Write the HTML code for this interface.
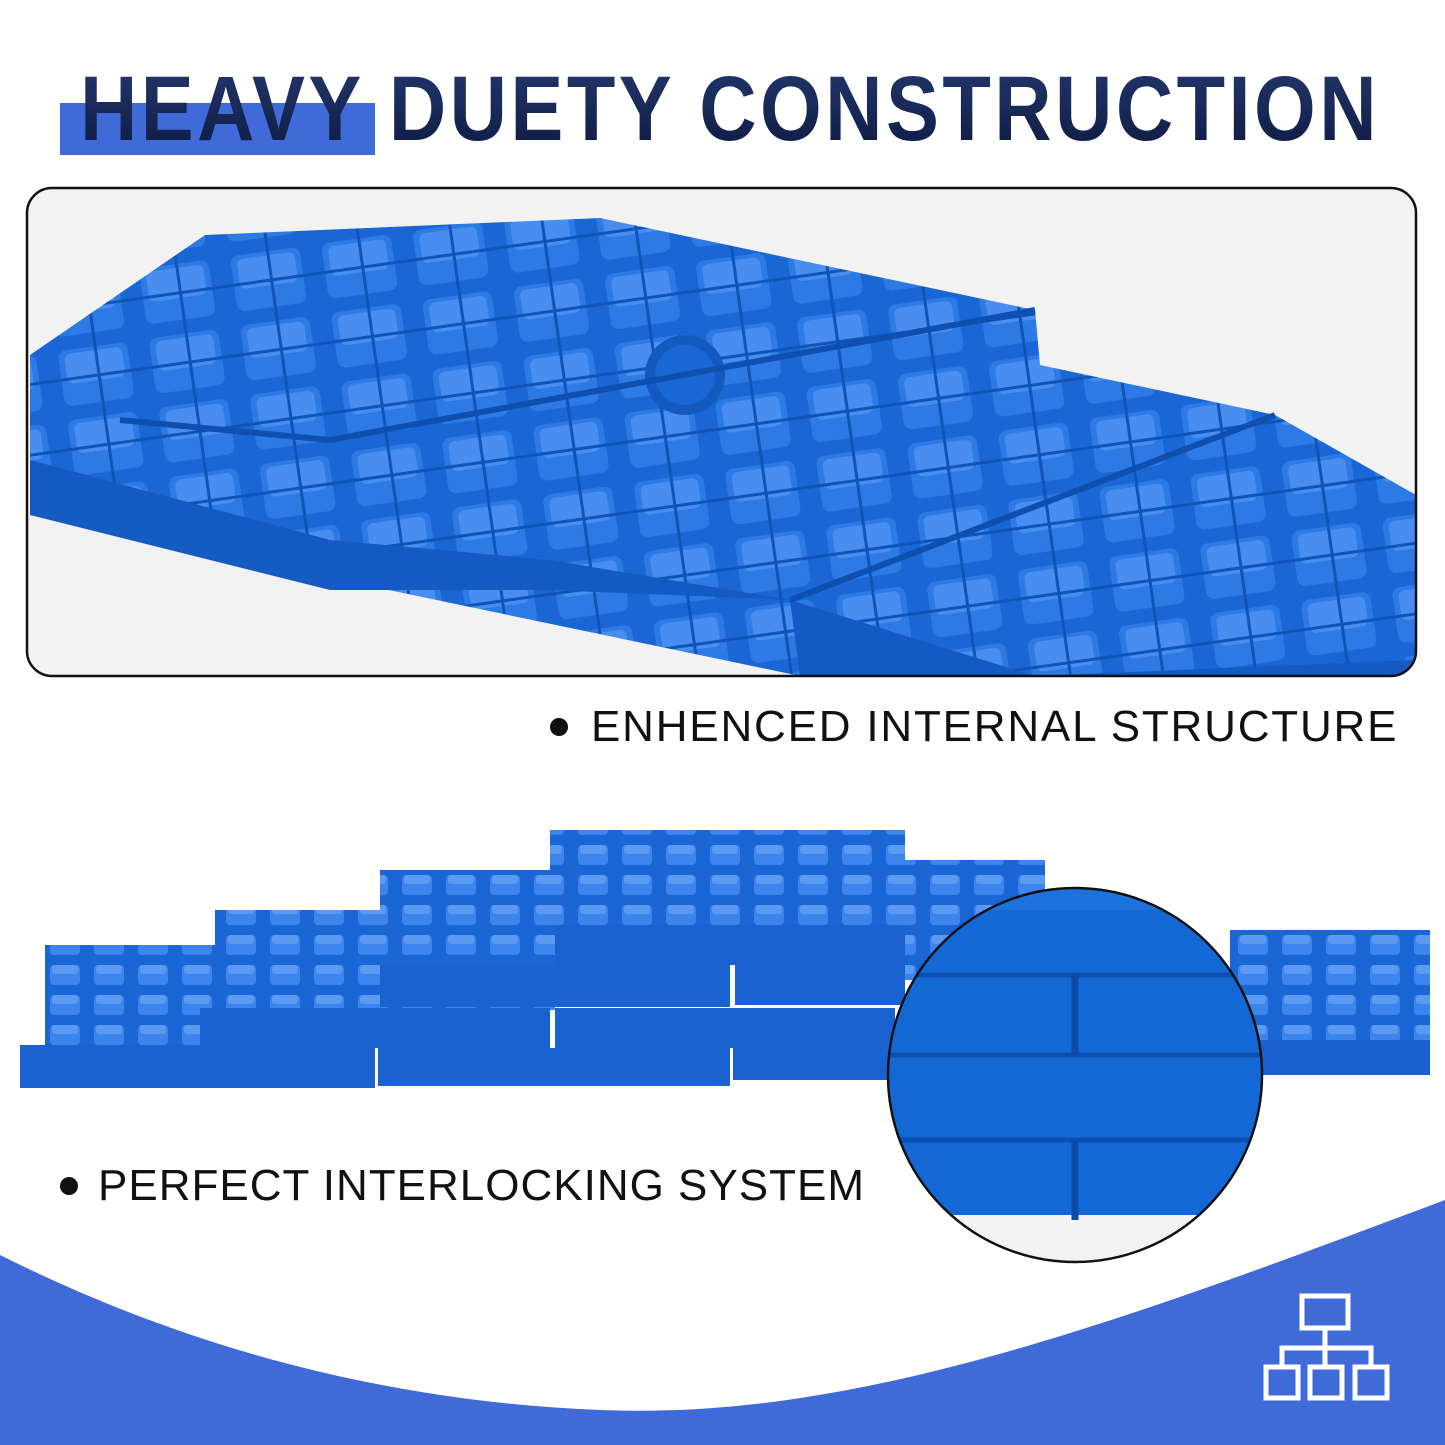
<!DOCTYPE html>
<html><head><meta charset="utf-8"><style>
html,body{margin:0;padding:0;background:#fff}
body{width:1445px;height:1445px;position:relative;overflow:hidden;font-family:"Liberation Sans",sans-serif}
.t{position:absolute;white-space:nowrap}
</style></head><body>
<svg width="1445" height="1445" style="position:absolute;left:0;top:0">
<defs>
<linearGradient id="tg" x1="0" y1="0" x2="0" y2="1"><stop offset="0" stop-color="#24386e"/><stop offset="1" stop-color="#0d1a40"/></linearGradient>
<clipPath id="pc"><rect x="28" y="189" width="1387" height="486" rx="24"/></clipPath>
<clipPath id="cc"><circle cx="1075" cy="1075" r="186"/></clipPath>
<pattern id="sq" width="92" height="70" patternUnits="userSpaceOnUse" patternTransform="rotate(-8)">
<rect width="92" height="70" fill="#1a66d4"/>
<rect x="8" y="6" width="70" height="56" rx="8" fill="#2e7ae4"/>
<rect x="14" y="10" width="58" height="30" rx="6" fill="#4a8df0"/>
<path d="M0 35 L92 35 M46 0 L46 70" stroke="#0f55b8" stroke-width="3"/>
</pattern>
<pattern id="sq2" width="44" height="30" patternUnits="userSpaceOnUse">
<rect width="44" height="30" fill="#1a66d4"/>
<rect x="6" y="5" width="30" height="20" rx="4" fill="#3d85ec"/>
<rect x="8" y="5" width="26" height="9" rx="3" fill="#5a9af2"/>
</pattern>
</defs>
<rect x="60" y="103" width="315" height="52" fill="#3f6ad8"/>
<text x="730" y="140" text-anchor="middle" font-family="Liberation Sans" font-weight="bold" font-size="92" fill="url(#tg)" textLength="1300" lengthAdjust="spacingAndGlyphs" letter-spacing="4">HEAVY DUETY CONSTRUCTION</text>
<rect x="27" y="188" width="1389" height="488" rx="25" fill="#f2f2f2"/>
<g clip-path="url(#pc)">
<polygon points="30,355 205,235 600,218 1035,310 1040,365 1275,415 1416,495 1416,676 800,676 30,515" fill="url(#sq)"/>
<polygon points="30,460 330,540 550,560 790,600 800,676 1100,676 1416,676 1416,660 1035,676 790,600 550,590 330,590 30,515" fill="#1559c2"/>
<circle cx="685" cy="375" r="40" fill="#1459c0"/>
<circle cx="685" cy="375" r="30" fill="#1a66d4"/>
<path d="M330 440 L1035 310 M120 420 L330 440 M790 600 L1275 415" stroke="#0f4fb0" stroke-width="6" fill="none"/>
</g>
<rect x="27" y="188" width="1389" height="488" rx="25" fill="none" stroke="#111" stroke-width="2.5"/>
<circle cx="559" cy="727" r="9" fill="#111"/>
<circle cx="69" cy="1186" r="9" fill="#111"/>
<g>
<rect x="1230" y="930" width="200" height="145" fill="url(#sq2)"/>
<rect x="1230" y="1040" width="200" height="35" fill="#1a5fcc"/>
<rect x="895" y="860" width="150" height="120" fill="url(#sq2)"/>
<rect x="550" y="830" width="355" height="135" fill="url(#sq2)"/>
<rect x="380" y="870" width="350" height="100" fill="url(#sq2)"/>
<rect x="215" y="910" width="340" height="100" fill="url(#sq2)"/>
<rect x="45" y="945" width="330" height="100" fill="url(#sq2)"/>
<rect x="555" y="925" width="350" height="40" fill="#1a62d0"/>
<rect x="380" y="965" width="350" height="42" fill="#1a62d0"/>
<rect x="735" y="965" width="170" height="40" fill="#1a62d0"/>
<rect x="200" y="1008" width="350" height="40" fill="#1a62d0"/>
<rect x="555" y="1008" width="340" height="40" fill="#1a62d0"/>
<rect x="20" y="1045" width="355" height="43" fill="#1a62d0"/>
<rect x="378" y="1048" width="352" height="38" fill="#1a62d0"/>
<rect x="733" y="1048" width="160" height="32" fill="#1a62d0"/>
</g>
<path d="M0 1255 C150 1330 350 1400 600 1410 C850 1420 1100 1330 1445 1200 L1445 1445 L0 1445 Z" fill="#3f6ad8"/>
<circle cx="1075" cy="1075" r="187" fill="#fff"/>
<g clip-path="url(#cc)">
<rect x="880" y="880" width="400" height="400" fill="#1468d6"/>
<rect x="880" y="880" width="400" height="30" fill="#1d72de"/>
<rect x="880" y="1215" width="400" height="70" fill="#f2f2f2"/>
<path d="M880 975 L1270 975 M880 1055 L1270 1055 M880 1140 L1270 1140" stroke="#0b4fb0" stroke-width="5"/>
<path d="M1075 975 L1075 1055 M1075 1140 L1075 1220" stroke="#0a4aa8" stroke-width="7"/>
</g>
<circle cx="1075" cy="1075" r="187" fill="none" stroke="#111" stroke-width="2.5"/>
<g fill="none" stroke="#fff" stroke-width="5">
<rect x="1302" y="1296" width="46" height="32"/>
<rect x="1266" y="1367" width="32" height="31"/>
<rect x="1310" y="1367" width="32" height="31"/>
<rect x="1355" y="1367" width="32" height="31"/>
<path d="M1325 1328 V1367 M1282 1367 V1348 H1371 V1367"/>
</g>
</svg>
<div class="t" style="left:591px;top:702px;font-size:44px;color:#111;letter-spacing:1.8px">ENHENCED INTERNAL STRUCTURE</div>
<div class="t" style="left:98px;top:1161px;font-size:44px;color:#111;letter-spacing:1px">PERFECT INTERLOCKING SYSTEM</div>
</body></html>
